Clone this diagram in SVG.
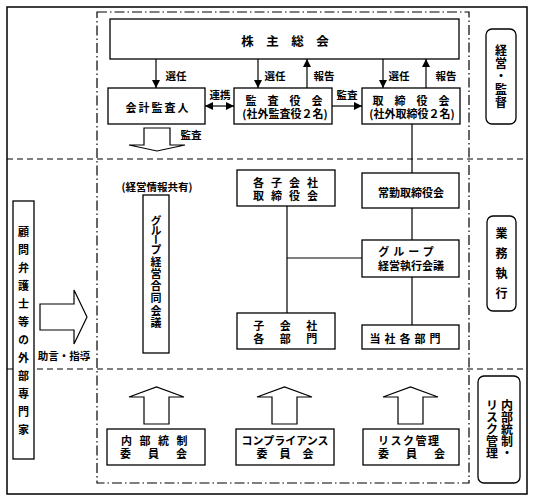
<svg xmlns="http://www.w3.org/2000/svg" width="533" height="500" viewBox="0 0 533 500">
<style>
text{font-family:"Noto Sans CJK JP","Noto Sans CJK SC",sans-serif;font-size:11px;font-weight:bold;fill:#000;dominant-baseline:central;text-anchor:middle}
.box{fill:#fff;stroke:#000;stroke-width:1.3}
.ln{fill:none;stroke:#000;stroke-width:1.2}
.ha{fill:#fff;stroke:#000;stroke-width:1.2}
.dash{fill:none;stroke:#000;stroke-width:1.2;stroke-dasharray:6,4}
.dd{fill:none;stroke:#000;stroke-width:1.2;stroke-dasharray:10,3,1.5,3}
.lab{font-size:10.5px}
.v{writing-mode:vertical-rl}
.vs{writing-mode:vertical-rl;text-anchor:start}
</style>
<defs>
<marker id="ah" viewBox="0 0 10 10" refX="10" refY="5" markerWidth="8" markerHeight="8" markerUnits="userSpaceOnUse" orient="auto-start-reverse">
<path d="M0,0 L10,5 L0,10 Z" fill="#000"/>
</marker>
</defs>
<rect width="533" height="500" fill="#fff"/>
<g id="frames">
<rect x="7" y="7" width="520" height="487" fill="none" stroke="#000" stroke-width="1.5"/>
<line class="dash" x1="7" y1="159" x2="527" y2="159"/>
<line class="dash" x1="7" y1="369" x2="527" y2="369"/>
<rect class="dd" x="97" y="12" width="372" height="471"/>
</g>
<g id="connectors">
<path class="ln" d="M156,59 V88" marker-end="url(#ah)"/>
<path class="ln" d="M258,59 V88" marker-end="url(#ah)"/>
<path class="ln" d="M307,88 V59" marker-end="url(#ah)"/>
<path class="ln" d="M383,59 V88" marker-end="url(#ah)"/>
<path class="ln" d="M426,88 V59" marker-end="url(#ah)"/>
<path class="ln" d="M205,106 H234" marker-start="url(#ah)" marker-end="url(#ah)"/>
<path class="ln" d="M332,106 H362" marker-end="url(#ah)"/>
<path class="ln" d="M412,124 V173 M412,208 V240 M412,277 V325"/>
<path class="ln" d="M287,206 V313 M287,258 H362"/>
<polygon class="ha" points="144,128 170,128 170,145 185,145 157,151 129,145 144,145"/>
<polygon class="ha" points="40,304 74,304 74,290 87,317 74,344 74,330 40,330"/>
<polygon class="ha" points="144,424 169,424 169,397 184,397 156.5,387 129,397 144,397"/>
<polygon class="ha" points="272,424 297,424 297,397 312,397 284.5,387 257,397 272,397"/>
<polygon class="ha" points="398,424 423,424 423,397 438,397 410.5,387 383,397 398,397"/>
<text class="lab" x="176" y="75">選任</text>
<text class="lab" x="275" y="75">選任</text>
<text class="lab" x="324" y="75">報告</text>
<text class="lab" x="399" y="75">選任</text>
<text class="lab" x="446" y="75">報告</text>
<text class="lab" x="220" y="94">連携</text>
<text class="lab" x="347" y="94">監査</text>
<text class="lab" x="191" y="134">監査</text>
<text class="lab" x="64" y="355">助言・指導</text>
<text class="lab" x="157" y="186">(経営情報共有)</text>
</g>
<g id="kabunushi">
<rect class="box" x="110" y="19" width="349" height="40"/>
<text x="285" y="40" style="font-size:12.5px">株　主　総　会</text>
</g>
<g id="kaikei">
<rect class="box" x="108" y="88" width="97" height="36"/>
<text x="158" y="107" letter-spacing="2">会計監査人</text>
</g>
<g id="kansayaku">
<rect class="box" x="234" y="88" width="98" height="36"/>
<text x="284" y="100">監　査　役　会</text>
<text x="285" y="113">(社外監査役２名)</text>
</g>
<g id="torishimari">
<rect class="box" x="362" y="88" width="98" height="36"/>
<text x="411" y="100">取　締　役　会</text>
<text x="412" y="113">(社外取締役２名)</text>
</g>
<g id="joukin">
<rect class="box" x="362" y="173" width="97" height="35"/>
<text x="411" y="192">常勤取締役会</text>
</g>
<g id="group-shikkou">
<rect class="box" x="362" y="240" width="97" height="37"/>
<text x="408" y="251" letter-spacing="4">グループ</text>
<text x="411" y="265">経営執行会議</text>
</g>
<g id="tousha">
<rect class="box" x="362" y="325" width="97" height="24"/>
<text x="407" y="338" letter-spacing="4">当社各部門</text>
</g>
<g id="kogaisha-torishimari">
<rect class="box" x="237" y="170" width="98" height="36"/>
<text x="289" y="182" letter-spacing="7">各子会社</text>
<text x="289" y="195" letter-spacing="7">取締役会</text>
</g>
<g id="kogaisha-bumon">
<rect class="box" x="237" y="313" width="98" height="36"/>
<text x="293" y="325" letter-spacing="15.5">子会社</text>
<text x="293" y="338" letter-spacing="15.5">各部門</text>
</g>
<g id="group-goudou">
<rect class="box" x="143" y="195" width="26" height="158"/>
<text class="vs" x="156"><tspan y="215.5">グ</tspan><tspan y="225.5">ル</tspan><tspan y="234.5">ー</tspan><tspan y="244.5">プ</tspan><tspan y="256.5">経</tspan><tspan y="268.5">営</tspan><tspan y="280.5">合</tspan><tspan y="292.5">同</tspan><tspan y="305.5">会</tspan><tspan y="317.5">議</tspan></text>
</g>
<g id="gaibu">
<rect class="box" x="13" y="201" width="21" height="258"/>
<text class="v" x="23.5" y="334" letter-spacing="7">顧問弁護士等の外部専門家</text>
</g>
<g id="naibu-iinkai">
<rect class="box" x="107" y="429" width="98" height="36"/>
<text x="158" y="440" letter-spacing="7.5">内部統制</text>
<text x="162" y="453" letter-spacing="17">委員会</text>
</g>
<g id="compliance">
<rect class="box" x="236" y="429" width="98" height="36"/>
<text x="285" y="440">コンプライアンス</text>
<text x="291" y="453" letter-spacing="12">委員会</text>
</g>
<g id="risk">
<rect class="box" x="363" y="429" width="96" height="36"/>
<text x="378" y="440" style="text-anchor:start" letter-spacing="1.5">リスク管理</text>
<text x="378" y="453" style="text-anchor:start" letter-spacing="17">委員会</text>
</g>
<g id="label-keiei">
<rect class="box" x="486" y="29" width="30" height="95" rx="6"/>
<text class="v" x="501" y="77" style="font-size:12px" letter-spacing="1">経営・監督</text>
</g>
<g id="label-gyoumu">
<rect class="box" x="487" y="216" width="29" height="95" rx="6"/>
<text class="v" x="501.5" y="267" style="font-size:12px" letter-spacing="8">業務執行</text>
</g>
<g id="label-naibu">
<rect class="box" x="478" y="376" width="42" height="107" rx="6"/>
<text class="v" x="507" y="429" style="font-size:12px">内部統制・</text>
<text class="v" x="492" y="429" style="font-size:12px">リスク管理</text>
</g>
</svg>
